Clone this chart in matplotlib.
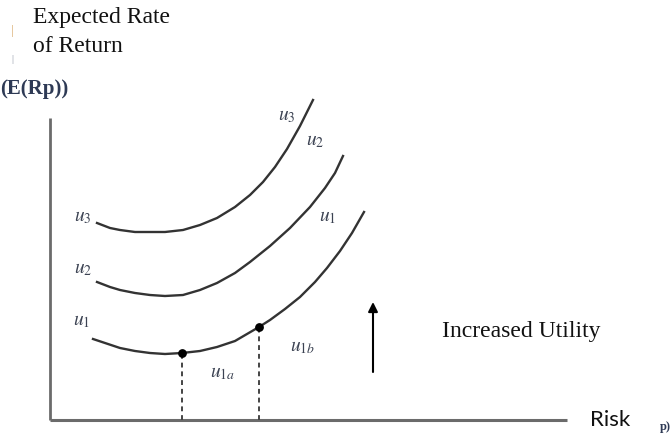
import matplotlib.pyplot as plt

# indifference curves (risk, expected return)
u1_risk = [43, 55, 70, 85, 100, 115, 132, 150, 167, 185, 209, 220, 235, 250, 265, 277, 290, 302, 314]
u1_ret = [81, 77, 72, 69, 67, 66, 67, 69, 73, 79, 93, 100, 111, 123, 138, 152, 169, 187, 208]
u2_risk = [47, 60, 70, 85, 100, 115, 133, 150, 167, 185, 200, 220, 240, 260, 275, 285, 293]
u2_ret = [138, 133, 130, 127, 125, 124, 125, 130, 137, 147, 158, 174, 192, 213, 232, 247, 264]
u3_risk = [47, 60, 70, 85, 100, 115, 133, 150, 167, 185, 200, 213, 225, 237, 250, 263]
u3_ret = [197, 192, 190, 188, 188, 188, 190, 195, 202, 213, 225, 238, 253, 271, 294, 320]

# the two marked portfolios on u1
pt_risk = [132, 209]
pt_ret = [67, 93]

axis_len_x = 517
axis_len_y = 302

plt.rcParams['mathtext.fontset'] = 'stix'
serif = 'Liberation Serif'
lab_col = '#3b4252'

fig = plt.figure(figsize=(6.71, 4.34), dpi=100)
ax = fig.add_axes([0, 0, 1, 1])
ax.set_xlim(-50, 621)
ax.set_ylim(-14, 420)
ax.axis('off')

# axes
ax.plot([0, 0], [0, axis_len_y], color='#6b6b6b', lw=2, solid_capstyle='butt')
ax.plot([0, axis_len_x], [0, 0], color='#6b6b6b', lw=2.2, solid_capstyle='butt')

for xs, ys in [(u1_risk, u1_ret), (u2_risk, u2_ret), (u3_risk, u3_ret)]:
    ax.plot(xs, ys, color='#333333', lw=1.7, solid_joinstyle='round')

ax.scatter(pt_risk, pt_ret, s=28, color='black', zorder=3)
for x, y in zip(pt_risk, pt_ret):
    ax.plot([x, x], [0, y], color='#444444', lw=1.4, ls=(0, (2.5, 2)))

# arrow showing direction of higher utility
ax.annotate('', xy=(323, 118), xytext=(323, 48),
            arrowprops=dict(arrowstyle='-|>', color='black', lw=1.5,
                            mutation_scale=14, shrinkA=0, shrinkB=0))

# curve labels
ulabels = [(33, 203, '3'), (33, 151, '2'), (32, 100, '1'),
           (237, 305, '3'), (265, 280, '2'), (278, 203, '1')]
for x, y, s in ulabels:
    ax.text(x, y, r'$u_{%s}$' % s, fontsize=14, color=lab_col,
            ha='center', va='center')
ax.text(173, 48, r'$u_{1a}$', fontsize=14, color=lab_col, ha='center', va='center')
ax.text(253, 73, r'$u_{1b}$', fontsize=14, color=lab_col, ha='center', va='center')

ax.text(392, 88, 'Increased Utility', fontsize=17, family=serif,
        ha='left', va='center', color='#111111')
ax.text(-17, 402, 'Expected Rate', fontsize=17, family=serif,
        ha='left', va='center', color='#111111')
ax.text(-17, 373, 'of Return', fontsize=17, family=serif,
        ha='left', va='center', color='#111111')
# leftover fragments of the original label
ax.text(-38, 389, '|', fontsize=9, family=serif, color='#d8a868', ha='center', va='center')
ax.text(-38, 360, '|', fontsize=7, family=serif, color='#8890a0', ha='center', va='center')
ax.text(-50, 331, '(E(Rp))', fontsize=15, family=serif, weight='bold',
        ha='left', va='center', color='#2e3a55')
ax.text(540, 0, 'Risk', fontsize=16, family='Lato',
        ha='left', va='center', color='#111111')
ax.text(610, -7, 'p)', fontsize=9, family=serif, weight='bold',
        ha='left', va='center', color='#2e3a55')

fig.savefig('out.png', dpi=100)
